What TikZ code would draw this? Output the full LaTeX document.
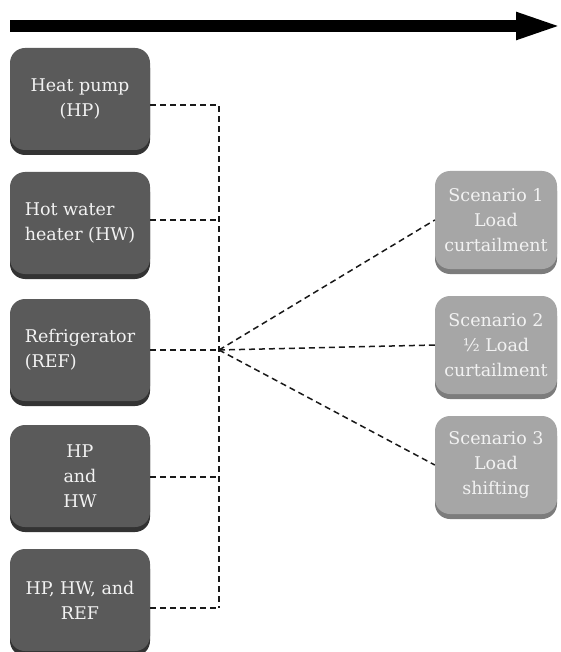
\documentclass[tikz,border=0pt]{standalone}
\usepackage{fontspec}
\setmainfont{DejaVu Serif}
\usetikzlibrary{shadows,arrows.meta}
\definecolor{boxdark}{HTML}{5A5A5A}
\definecolor{shdark}{HTML}{333333}
\definecolor{boxlight}{HTML}{A6A6A6}
\definecolor{shlight}{HTML}{7C7C7C}
\definecolor{textlight}{HTML}{F2F2F2}
\begin{document}
\begin{tikzpicture}[x=1pt,y=-1pt,
  basebox/.style={rounded corners=15pt, text=textlight, inner sep=0pt,
    font=\fontsize{17.5}{25}\selectfont},
  dbox/.style={basebox, fill=boxdark, minimum width=140pt, minimum height=102pt,
    drop shadow={shadow xshift=0pt, shadow yshift=-5pt, fill=shdark, opacity=1}},
  lbox/.style={basebox, fill=boxlight, minimum width=122pt, minimum height=98pt,
    drop shadow={shadow xshift=0pt, shadow yshift=-5pt, fill=shlight, opacity=1}},
  conn/.style={line width=1.5pt, dash pattern=on 6pt off 4pt, color=black!90}
]
\useasboundingbox (0,0) rectangle (560,652);
\fill[white] (0,0) rectangle (560,652);

% timeline arrow
\coordinate (tl) at (10,26);
\coordinate (tr) at (564,26);
\draw[line width=12pt, -{Triangle[length=48pt,width=24pt]}] (tl) -- (tr);

% left boxes
\node[dbox, align=center] (hp)  at (80,99)  {Heat pump\\(HP)};
\node[dbox, align=left]   (hw)  at (80,223) {Hot water\\heater (HW)};
\node[dbox, align=left]   (ref) at (80,350) {Refrigerator\\(REF)};
\node[dbox, align=center] (hphw) at (80,476) {HP\\and\\HW};
\node[dbox, align=center] (all) at (80,600) {HP, HW, and\\REF};

% scenario boxes
\node[lbox, align=center] (s1) at (496,220) {Scenario 1\\Load\\curtailment};
\node[lbox, align=center] (s2) at (496,345) {Scenario 2\\½ Load\\curtailment};
\node[lbox, align=center] (s3) at (496,465) {Scenario 3\\Load\\shifting};

% junction coordinates
\coordinate (j1) at (219,105);
\coordinate (j2) at (219,220);
\coordinate (hub) at (219,350);
\coordinate (j4) at (219,477);
\coordinate (j5) at (219,608);

\draw[conn] (hp.east |- j1) -- (j1) -- (j5);
\draw[conn] (hw.east |- j2) -- (j2);
\draw[conn] (ref.east |- hub) -- (hub);
\draw[conn] (hphw.east |- j4) -- (j4);
\draw[conn] (all.east |- j5) -- (j5);

\draw[conn] (hub) -- (s1.west);
\draw[conn] (hub) -- (s2.west);
\draw[conn] (hub) -- (s3.west);
\end{tikzpicture}
\end{document}
